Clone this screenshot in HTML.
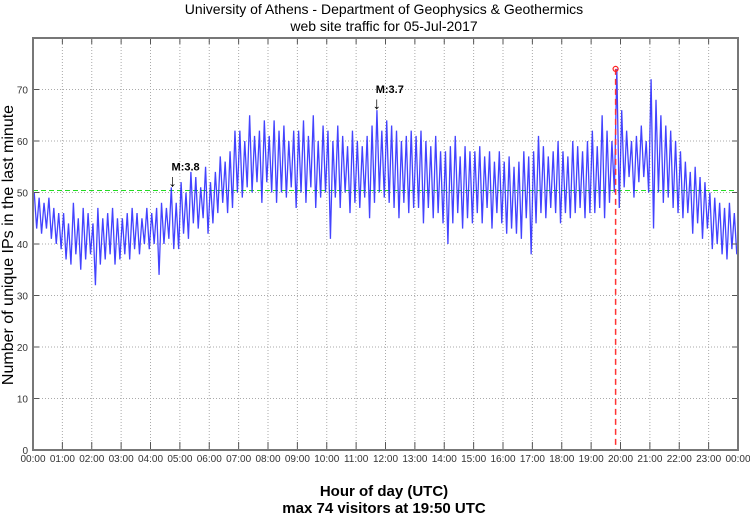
<!DOCTYPE html>
<html><head><meta charset="utf-8"><style>
body{margin:0;background:#fff;}
svg{display:block;font-family:"Liberation Sans",sans-serif;}
</style></head><body>
<svg id="chart" width="750" height="515">
<text x="384" y="14" font-size="14" text-anchor="middle">University of Athens - Department of Geophysics &amp; Geothermics</text>
<text x="384" y="31" font-size="14" text-anchor="middle">web site traffic for 05-Jul-2017</text>
<g id="grid"></g>
<g id="series"></g>
<g id="axes"></g>
<text x="13" y="245" font-size="16" text-anchor="middle" transform="rotate(-90 13 245)">Number of unique IPs in the last minute</text>
<text x="384" y="496" font-size="15" font-weight="bold" text-anchor="middle">Hour of day (UTC)</text>
<text x="384" y="513" font-size="15" font-weight="bold" text-anchor="middle">max 74 visitors at 19:50 UTC</text>
</svg>
<script>
const hiVals=[50,49,48,49,47,46, 46,44,48,45,47,46, 44,47,45,46,47,45, 45,46,47,46,45,47, 46,47,48,47,51,48, 52,50,54,53,51,55, 52,54,57,56,58,62, 62,60,65,61,62,64, 61,64,62,63,60,62, 62,64,61,65,60,63, 62,60,63,61,59,62, 60,59,61,63,66,62, 64,63,62,60,61,62, 61,62,60,59,61,58, 58,59,61,57,59,58, 58,59,57,58,56,58, 56,57,55,56,58,57, 58,61,59,57,58,60, 58,57,60,59,58,60, 62,59,65,62,60,74, 66,62,60,61,63,60, 72,68,65,63,62,60, 58,56,54,55,53,52, 50,49,48,47,48,46];
const loVals=[43,42,43,41,40,39, 37,36,38,35,37,38, 32,36,37,38,36,37, 38,37,39,38,40,39, 40,34,40,41,39,39, 42,41,44,43,45,42, 44,46,48,46,47,50, 49,51,50,52,48,52, 50,48,50,49,51,47, 50,48,51,47,49,50, 41,49,47,50,46,48, 47,49,45,48,50,49, 48,47,45,48,46,47, 47,44,47,45,46,44, 40,44,46,43,45,44, 46,44,47,43,46,44, 42,43,42,41,45,38, 44,46,45,47,46,44, 46,45,46,47,45,46, 46,47,45,48,50,47, 51,53,49,52,53,50, 43,50,48,49,47,46, 45,46,42,44,41,43, 39,40,38,37,39,38];
const yTicks=[0,10,20,30,40,50,60,70];
const xTickLabels=["00:00","01:00","02:00","03:00","04:00","05:00","06:00","07:00","08:00","09:00","10:00","11:00","12:00","13:00","14:00","15:00","16:00","17:00","18:00","19:00","20:00","21:00","22:00","23:00","00:00"];
const meanValue=[50.4];
const maxValue=[74];
const maxHour=[19+50/60];
const quakeLabels=["M:3.8","M:3.7"];
const quakeHours=[4.75,11.7];
const quakeValues=[51,66];

const L=33,R=738,T=38,B=450,YMAX=80;
const xs=h=>L+(R-L)*h/24;
const ys=v=>B-(B-T)*v/YMAX;
const NS="http://www.w3.org/2000/svg";
function mk(tag,attrs,parent){const e=document.createElementNS(NS,tag);for(const k in attrs)e.setAttribute(k,attrs[k]);parent.appendChild(e);return e;}
const grid=document.getElementById('grid'),axes=document.getElementById('axes'),series=document.getElementById('series');
yTicks.forEach(v=>{
  if(v>0){const g=mk('line',{x1:L,x2:R,y1:ys(v),y2:ys(v),stroke:'#aaa','stroke-width':1,'stroke-dasharray':'1,2'},grid);
  
  }
  const t=mk('text',{x:L-5,y:ys(v)+4,'font-size':10,'text-anchor':'end',fill:'#333'},axes);t.textContent=v;
  
  
  mk('line',{x1:L,x2:L+6,y1:ys(v),y2:ys(v),stroke:'#555'},axes);
  mk('line',{x1:R,x2:R-6,y1:ys(v),y2:ys(v),stroke:'#555'},axes);
});
xTickLabels.forEach((lab,i)=>{
  const x=xs(i);
  if(i>0&&i<24){const g=mk('line',{x1:x,x2:x,y1:T,y2:B,stroke:'#aaa','stroke-width':1,'stroke-dasharray':'1,2'},grid);
  
  }
  mk('line',{x1:x,x2:x,y1:B,y2:B-8,stroke:'#555'},axes);
  mk('line',{x1:x,x2:x,y1:T,y2:T+6,stroke:'#555'},axes);
  const t=mk('text',{x:x,y:B+12,'font-size':10,'text-anchor':'middle',fill:'#333'},axes);t.textContent=lab;
  
  
});
const box=mk('rect',{x:L,y:T,width:R-L,height:B-T,fill:'none',stroke:'#777','stroke-width':2},axes);


const ml=mk('line',{x1:L,x2:R,y1:ys(meanValue[0]),y2:ys(meanValue[0]),stroke:'#22dd22','stroke-width':1,'stroke-dasharray':'5,3'},series);


let pts=[];
hiVals.forEach((h,i)=>{const t0=i/6;pts.push(xs(t0+1/24)+','+ys(h));pts.push(xs(t0+3/24)+','+ys(loVals[i]));});
const pl=mk('polyline',{points:pts.join(' '),fill:'none',stroke:'#2222ff','stroke-width':1.3,'stroke-opacity':0.85},series);


const mx=mk('line',{x1:xs(maxHour[0]),x2:xs(maxHour[0]),y1:ys(maxValue[0]),y2:B,stroke:'#ff3333','stroke-width':1.5,'stroke-dasharray':'6,4'},series);


const mc=mk('circle',{cx:xs(maxHour[0]),cy:ys(maxValue[0]),r:2.5,fill:'none',stroke:'#ff2222','stroke-width':1.2},series);


quakeLabels.forEach((lab,i)=>{
  const x=xs(quakeHours[i]),y=ys(quakeValues[i]);
  const a=mk('text',{x:x,y:y-1,'font-size':17,'text-anchor':'middle'},series);a.textContent='↓';
  
  
  const t=mk('text',{x:x-1,y:y-17,'font-size':11,'font-weight':'bold'},series);t.textContent=lab;
  
  
});
</script>
</body></html>
